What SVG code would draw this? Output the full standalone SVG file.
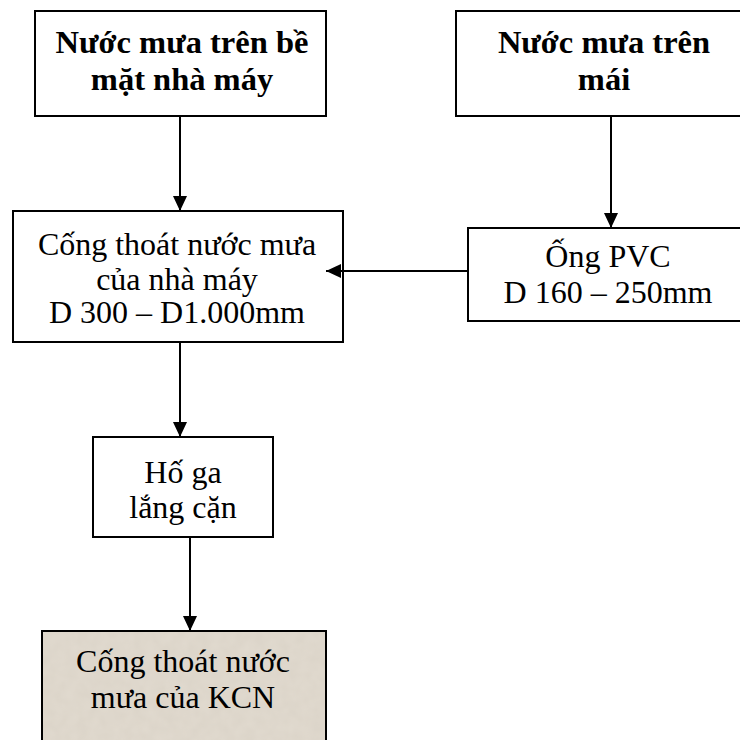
<svg xmlns="http://www.w3.org/2000/svg" width="740" height="740" viewBox="0 0 740 740">
  <style>
    .box { fill: #ffffff; stroke: #000000; stroke-width: 2; }
    .tex { fill: #e0d9ce; stroke: none; }
    .edge { fill: none; stroke: #000000; stroke-width: 2; }
    .t { font-family: "Liberation Serif", "Times New Roman", serif; font-size: 32px; fill: #000000; text-anchor: middle; }
    .b { font-weight: bold; font-size: 32.5px; }
  </style>
  <defs>
    <marker id="arrow" viewBox="0 0 15 14" refX="15" refY="7" markerWidth="15" markerHeight="14" markerUnits="userSpaceOnUse" orient="auto">
      <path d="M0,0 L15,7 L0,14 Z" fill="#000000"/>
    </marker>
    <!-- grainy parchment texture for the final outlet box -->
    <filter id="grain" x="0" y="0" width="100%" height="100%">
      <feTurbulence type="fractalNoise" baseFrequency="0.09" numOctaves="2" seed="4" result="noise"/>
      <feColorMatrix in="noise" type="matrix" values="0 0 0 0 0.6  0 0 0 0 0.55  0 0 0 0 0.47  0 0 0 0.3 -0.05" result="tint"/>
      <feComposite in="tint" in2="SourceGraphic" operator="in"/>
    </filter>
  </defs>

  <g id="node-surface-rain">
    <rect class="box" x="35" y="11" width="291" height="105"/>
    <text class="t b" x="182" y="53">Nước mưa trên bề</text>
    <text class="t b" x="182" y="90">mặt nhà máy</text>
  </g>

  <g id="node-roof-rain">
    <rect class="box" x="456" y="11" width="300" height="105"/>
    <text class="t b" x="604" y="53">Nước mưa trên</text>
    <text class="t b" x="604" y="90">mái</text>
  </g>

  <g id="node-plant-drain">
    <rect class="box" x="13" y="211" width="330" height="131"/>
    <text class="t" x="177" y="255">Cống thoát nước mưa</text>
    <text class="t" x="177" y="290">của nhà máy</text>
    <text class="t" x="177" y="323">D 300 – D1.000mm</text>
  </g>

  <g id="node-pvc-pipe">
    <rect class="box" x="468" y="228" width="290" height="93"/>
    <text class="t" x="608" y="267">Ống PVC</text>
    <text class="t" x="608" y="303">D 160 – 250mm</text>
  </g>

  <g id="node-settling-pit">
    <rect class="box" x="93" y="437" width="180" height="100"/>
    <text class="t" x="183" y="483">Hố ga</text>
    <text class="t" x="183" y="518">lắng cặn</text>
  </g>

  <g id="node-kcn-drain">
    <rect class="tex" x="42" y="631" width="284" height="130"/>
    <rect class="tex" x="42" y="631" width="284" height="130" filter="url(#grain)"/>
    <rect x="42" y="631" width="284" height="130" fill="none" stroke="#000000" stroke-width="2"/>
    <text class="t" x="183" y="672">Cống thoát nước</text>
    <text class="t" x="183" y="708">mưa của KCN</text>
  </g>

  <!-- connectors drawn last so the PVC arrowhead sits over the drain box -->
  <g id="connectors">
    <line class="edge" x1="180" y1="117" x2="180" y2="211" marker-end="url(#arrow)"/>
    <line class="edge" x1="611" y1="117" x2="611" y2="228" marker-end="url(#arrow)"/>
    <line class="edge" x1="467" y1="271" x2="326" y2="271" marker-end="url(#arrow)"/>
    <line class="edge" x1="180" y1="343" x2="180" y2="437" marker-end="url(#arrow)"/>
    <line class="edge" x1="190" y1="538" x2="190" y2="631" marker-end="url(#arrow)"/>
  </g>
</svg>
